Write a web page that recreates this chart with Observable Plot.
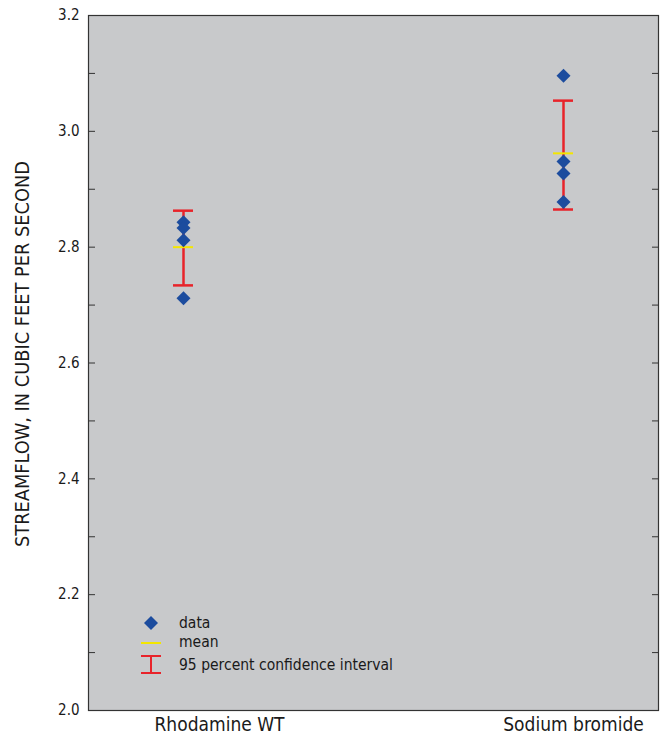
<!DOCTYPE html>
<html>
<head>
<meta charset="utf-8">
<script src="https://cdn.jsdelivr.net/npm/d3@7"></script>
<script src="https://cdn.jsdelivr.net/npm/@observablehq/plot@0.6"></script>
<style>
  html, body { margin: 0; padding: 0; background: #fff; }
  #chart { position: relative; width: 660px; height: 740px; }
  #legend { position: absolute; left: 0; top: 0; pointer-events: none; }
  svg { font-family: "Liberation Sans Narrow", "DejaVu Sans Condensed", "Arial Narrow", sans-serif; }
</style>
</head>
<body>
<div id="chart"></div>
<script>
// Categories and values
const categories = ["Rhodamine WT", "Sodium bromide"];
const rhodamineValues = [2.843, 2.833, 2.812, 2.712];
const sodiumValues = [3.096, 2.948, 2.927, 2.878];
const meanValues = [2.800, 2.962];
const ciLow = [2.734, 2.865];
const ciHigh = [2.863, 3.053];
const yTicks = [2.0, 2.1, 2.2, 2.3, 2.4, 2.5, 2.6, 2.7, 2.8, 2.9, 3.0, 3.1, 3.2];
const yLabels = [2.0, 2.2, 2.4, 2.6, 2.8, 3.0, 3.2];
const yTitle = "STREAMFLOW, IN CUBIC FEET PER SECOND";
const legendLabels = ["data", "mean", "95 percent confidence interval"];

const points = [
  ...rhodamineValues.map(v => ({cat: categories[0], v})),
  ...sodiumValues.map(v => ({cat: categories[1], v}))
];
const stats = categories.map((c, i) => ({cat: c, mean: meanValues[i], lo: ciLow[i], hi: ciHigh[i]}));

const BLUE = "#1c4c9e", RED = "#e8232a", YELLOW = "#f3e600", BG = "#c8c9cb", FRAME = "#333", INK = "#1a1a1a";

const plot = Plot.plot({
  width: 660,
  height: 740,
  marginLeft: 88,
  marginRight: 2,
  marginTop: 15,
  marginBottom: 30,
  style: {fontSize: "15px", color: INK, background: "#fff", overflow: "visible"},
  x: {type: "band", domain: categories, paddingInner: 0.9475, paddingOuter: 0.222},
  y: {domain: [2.0, 3.2]},
  marks: [
    Plot.frame({fill: BG}),
    // inward ticks left and right
    Plot.axisY(yTicks, {anchor: "left", tickSize: 7, dx: 7, tickFormat: () => "", label: null, stroke: FRAME}),
    Plot.axisY(yTicks, {anchor: "right", tickSize: 7, dx: -7, tickFormat: () => "", label: null, stroke: FRAME}),
    // tick labels
    Plot.axisY(yLabels, {anchor: "left", tickSize: 0, tickPadding: 9, tickFormat: d3.format(".1f"), fontSize: 15, label: null}),
    Plot.axisX([categories[0]], {anchor: "bottom", tickSize: 0, tickPadding: 7, fontSize: 19, dx: 36, label: null}),
    Plot.axisX([categories[1]], {anchor: "bottom", tickSize: 0, tickPadding: 7, fontSize: 19, dx: 10, label: null}),
    // y title
    Plot.text([yTitle], {frameAnchor: "left", text: d => d, rotate: -90, textAnchor: "middle", dx: -66, dy: -9, fontSize: 19.8, fill: INK}),
    // confidence interval
    Plot.ruleX(stats, {x: "cat", y1: "lo", y2: "hi", stroke: RED, strokeWidth: 2.5}),
    Plot.tickY(stats, {x: "cat", y: "lo", stroke: RED, strokeWidth: 2.5}),
    Plot.tickY(stats, {x: "cat", y: "hi", stroke: RED, strokeWidth: 2.5}),
    Plot.tickY(stats, {x: "cat", y: "mean", stroke: YELLOW, strokeWidth: 2}),
    // data
    Plot.dot(points, {x: "cat", y: "v", symbol: "diamond2", r: 6.3, fill: BLUE, stroke: "none"}),
    Plot.frame({stroke: FRAME, strokeWidth: 1.2})
  ]
});

const chart = document.getElementById("chart");
chart.appendChild(plot);

// Legend overlay (inside plot area, lower left)
const lg = d3.select(chart).append("svg")
  .attr("id", "legend").attr("width", 660).attr("height", 740);
const sym = d3.symbol(d3.symbolDiamond2, Math.PI * 6.3 * 6.3);
lg.append("path").attr("d", sym()).attr("transform", "translate(151,623)").attr("fill", BLUE);
lg.append("line").attr("x1", 141).attr("x2", 161).attr("y1", 643).attr("y2", 643).attr("stroke", YELLOW).attr("stroke-width", 2);
lg.append("line").attr("x1", 141).attr("x2", 161).attr("y1", 656).attr("y2", 656).attr("stroke", RED).attr("stroke-width", 2);
lg.append("line").attr("x1", 141).attr("x2", 161).attr("y1", 673).attr("y2", 673).attr("stroke", RED).attr("stroke-width", 2);
lg.append("line").attr("x1", 151).attr("x2", 151).attr("y1", 656).attr("y2", 673).attr("stroke", RED).attr("stroke-width", 2);
const ly = [623, 642, 665];
legendLabels.forEach((t, i) => {
  lg.append("text").attr("x", 179).attr("y", ly[i]).attr("dy", "0.35em")
    .attr("font-size", 15.5).attr("fill", INK).text(t);
});
</script>
</body>
</html>
